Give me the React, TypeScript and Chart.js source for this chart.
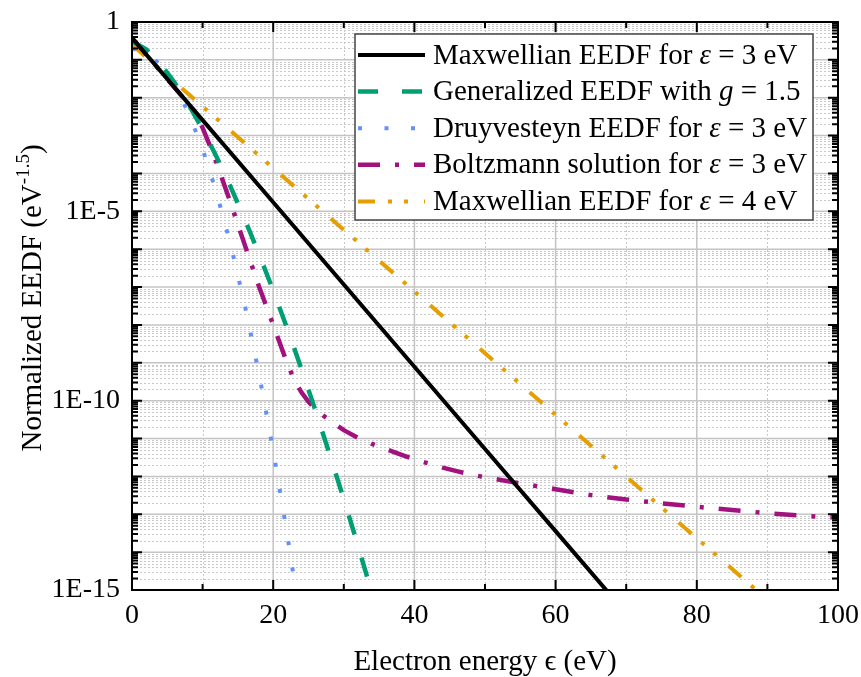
import React, { useEffect, useRef } from 'react';
import { Chart, registerables } from 'chart.js';
Chart.register(...registerables);

const FONT = "'Liberation Serif', 'Times New Roman', serif";

// ---- axis ticks ----
const xTickValues = [0, 20, 40, 60, 80, 100];
const xMinorValues = [10, 30, 50, 70, 90];
const yTickValues = [1e-15, 1e-10, 1e-5, 1];
const yTickLabels = ['1E-15', '1E-10', '1E-5', '1'];

// ---- series (energy in eV, EEDF in eV^-1.5) ----
const maxwell3E = [0, 10, 20, 30, 40, 50, 60, 70];
const maxwell3F = [3.8e-1, 2.56e-3, 1.73e-5, 1.17e-7, 7.87e-10, 5.31e-12, 3.58e-14, 2.42e-16];

const generalizedE = [0, 2, 4, 6, 8, 10, 12, 14, 16, 18, 20, 22, 24, 26, 28, 30, 32, 34];
const generalizedF = [3.1e-1, 1.9e-1, 8.0e-2, 2.56e-2, 6.7e-3, 1.46e-3, 2.7e-4, 4.3e-5, 6.0e-6, 7.4e-7, 8.1e-8, 7.9e-9, 6.9e-10, 5.4e-11, 3.8e-12, 2.5e-13, 1.5e-14, 8e-16];

const druyvesteynE = [0, 2, 4, 6, 8, 10, 12, 14, 16, 18, 20, 22, 24];
const druyvesteynF = [2.0e-1, 1.56e-1, 7.5e-2, 2.2e-2, 4.0e-3, 4.4e-4, 3.0e-5, 1.25e-6, 3.2e-8, 5.0e-10, 4.8e-12, 2.85e-14, 1.0e-16];

const boltzmannE = [0, 4, 8, 9, 10, 11, 12, 14, 16, 18, 20, 22, 23, 24, 25, 26, 27, 28, 30, 32, 34, 36, 38, 40, 42, 44, 46, 48, 50, 55, 60, 65, 70, 75, 80, 85, 90, 95, 100];
const boltzmannF = [3.8e-1, 5.1e-2, 6.9e-3, 4.0e-3, 1.6e-3, 5.6e-4, 1.86e-4, 1.6e-5, 1.26e-6, 1.02e-7, 1.0e-8, 9.5e-10, 3.5e-10, 1.66e-10, 9.3e-11, 6.0e-11, 4.2e-11, 3.0e-11, 1.66e-11, 1.05e-11, 7.2e-12, 5.2e-12, 3.8e-12, 2.8e-12, 2.2e-12, 1.7e-12, 1.38e-12, 1.12e-12, 9.5e-13, 6.5e-13, 4.6e-13, 3.2e-13, 2.45e-13, 1.95e-13, 1.58e-13, 1.29e-13, 1.07e-13, 9.1e-14, 8.1e-14];

const maxwell4E = [0, 10, 20, 30, 40, 50, 60, 70, 80, 90];
const maxwell4F = [2.5e-1, 5.9e-3, 1.39e-4, 3.26e-6, 7.66e-8, 1.8e-9, 4.23e-11, 9.9e-13, 2.33e-14, 5.5e-16];

// ---- legend text (plain / italic runs) ----
const legendRows: [string, boolean][][] = [
  [['Maxwellian EEDF for ', false], ['ε', true], [' = 3 eV', false]],
  [['Generalized EEDF with ', false], ['g', true], [' = 1.5', false]],
  [['Druyvesteyn EEDF for ', false], ['ε', true], [' = 3 eV', false]],
  [['Boltzmann solution for ', false], ['ε', true], [' = 3 eV', false]],
  [['Maxwellian EEDF for ', false], ['ε', true], [' = 4 eV', false]],
];
const xTitle = 'Electron energy ϵ (eV)';
const yTitleMain = 'Normalized EEDF (eV';
const yTitleSup = '-1.5';
const yTitleEnd = ')';

const seriesE = [maxwell3E, generalizedE, druyvesteynE, boltzmannE, maxwell4E];
const seriesF = [maxwell3F, generalizedF, druyvesteynF, boltzmannF, maxwell4F];
const seriesColors = ['#000000', '#009E73', '#648FFF', '#A2127E', '#E69F00'];
const seriesDash = [[], [20, 24], [4, 22.5], [22, 15, 4, 15], [17, 13, 4, 12, 4, 16]];
const seriesWidth = [4, 4.5, 4, 4.5, 4];

const overlay = {
  id: 'overlay',
  beforeDatasetsDraw(chart: any) {
    const { ctx, chartArea: a, scales } = chart;
    const x = scales.x, y = scales.y;
    ctx.save();
    // minor grid
    ctx.strokeStyle = '#c8c8c8';
    ctx.lineWidth = 1;
    ctx.setLineDash([2, 2]);
    for (let e = -15; e < 0; e++) {
      for (let m = 2; m <= 9; m++) {
        const py = Math.round(y.getPixelForValue(m * Math.pow(10, e))) + 0.5;
        ctx.beginPath(); ctx.moveTo(a.left, py); ctx.lineTo(a.right, py); ctx.stroke();
      }
    }
    for (const v of xMinorValues) {
      const px = Math.round(x.getPixelForValue(v)) + 0.5;
      ctx.beginPath(); ctx.moveTo(px, a.top); ctx.lineTo(px, a.bottom); ctx.stroke();
    }
    // major grid
    ctx.setLineDash([]);
    ctx.strokeStyle = '#c4c4c4';
    ctx.lineWidth = 1.5;
    for (let e = -15; e <= 0; e++) {
      const py = y.getPixelForValue(Math.pow(10, e));
      ctx.beginPath(); ctx.moveTo(a.left, py); ctx.lineTo(a.right, py); ctx.stroke();
    }
    for (const v of xTickValues) {
      const px = x.getPixelForValue(v);
      ctx.beginPath(); ctx.moveTo(px, a.top); ctx.lineTo(px, a.bottom); ctx.stroke();
    }
    ctx.restore();
  },
  afterDatasetsDraw(chart: any) {
    const { ctx, chartArea: a, scales } = chart;
    const x = scales.x, y = scales.y;
    ctx.save();
    ctx.setLineDash([]);
    ctx.strokeStyle = '#000';
    ctx.lineWidth = 2;
    // ticks (inward, all four sides)
    const majorLen = 10, minorLen = 6;
    for (let e = -15; e <= 0; e++) {
      for (let m = 1; m <= 9; m++) {
        if (e === 0 && m > 1) break;
        const py = y.getPixelForValue(m * Math.pow(10, e));
        const len = m === 1 ? majorLen : minorLen;
        ctx.beginPath();
        ctx.moveTo(a.left, py); ctx.lineTo(a.left + len, py);
        ctx.moveTo(a.right, py); ctx.lineTo(a.right - len, py);
        ctx.stroke();
      }
    }
    const xt = [...xTickValues.map(v => [v, majorLen]), ...xMinorValues.map(v => [v, minorLen])];
    for (const [v, len] of xt) {
      const px = x.getPixelForValue(v);
      ctx.beginPath();
      ctx.moveTo(px, a.bottom); ctx.lineTo(px, a.bottom - len);
      ctx.moveTo(px, a.top); ctx.lineTo(px, a.top + len);
      ctx.stroke();
    }
    // frame
    ctx.lineWidth = 2;
    ctx.strokeRect(a.left, a.top, a.right - a.left, a.bottom - a.top);

    // legend
    const lx0 = 355, ly0 = 34, lx1 = 813, ly1 = 220;
    ctx.fillStyle = '#ffffff';
    ctx.fillRect(lx0, ly0, lx1 - lx0, ly1 - ly0);
    ctx.strokeStyle = '#444';
    ctx.lineWidth = 1.5;
    ctx.strokeRect(lx0, ly0, lx1 - lx0, ly1 - ly0);
    const rowY0 = 55, rowStep = 36.6;
    legendRows.forEach((row, i) => {
      const cy = rowY0 + i * rowStep;
      ctx.save();
      ctx.strokeStyle = seriesColors[i];
      ctx.lineWidth = seriesWidth[i];
      ctx.setLineDash(seriesDash[i]);
      ctx.beginPath(); ctx.moveTo(358, cy); ctx.lineTo(425, cy); ctx.stroke();
      ctx.restore();
      let tx = 433;
      ctx.fillStyle = '#000';
      ctx.textBaseline = 'middle';
      ctx.textAlign = 'left';
      for (const [txt, it] of row) {
        ctx.font = `${it ? 'italic ' : ''}29px ${FONT}`;
        ctx.fillText(txt, tx, cy + 1);
        tx += ctx.measureText(txt).width;
      }
    });

    // x title
    ctx.fillStyle = '#000';
    ctx.font = `29px ${FONT}`;
    ctx.textAlign = 'center';
    ctx.textBaseline = 'alphabetic';
    ctx.fillText(xTitle, (a.left + a.right) / 2, 670);

    // y title (rotated, with superscript)
    ctx.save();
    ctx.translate(41, 298);
    ctx.rotate(-Math.PI / 2);
    ctx.textAlign = 'left';
    ctx.font = `29px ${FONT}`;
    const w1 = ctx.measureText(yTitleMain).width;
    const w3 = ctx.measureText(yTitleEnd).width;
    ctx.font = `19px ${FONT}`;
    const w2 = ctx.measureText(yTitleSup).width;
    const start = -(w1 + w2 + w3) / 2;
    ctx.font = `29px ${FONT}`;
    ctx.fillText(yTitleMain, start, 0);
    ctx.font = `19px ${FONT}`;
    ctx.fillText(yTitleSup, start + w1, -12);
    ctx.font = `29px ${FONT}`;
    ctx.fillText(yTitleEnd, start + w1 + w2, 0);
    ctx.restore();

    ctx.restore();
  },
};

export default function App() {
  const ref = useRef<HTMLCanvasElement>(null);
  useEffect(() => {
    document.body.style.margin = '0';
    document.body.style.overflow = 'hidden';
    const datasets = seriesE.map((es, i) => ({
      label: legendRows[i].map(r => r[0]).join(''),
      data: es.map((e, j) => ({ x: e, y: seriesF[i][j] })),
      borderColor: seriesColors[i],
      backgroundColor: seriesColors[i],
      borderWidth: seriesWidth[i],
      borderDash: seriesDash[i],
      pointRadius: 0,
      fill: false,
      tension: 0,
    }));
    const chart = new Chart(ref.current as HTMLCanvasElement, {
      type: 'line',
      data: { datasets },
      options: {
        animation: false,
        responsive: true,
        maintainAspectRatio: false,
        layout: { padding: { top: 22, right: 23, left: 0, bottom: 0 } },
        plugins: {
          legend: { display: false },
          tooltip: { enabled: false },
          title: { display: false },
        },
        scales: {
          x: {
            type: 'linear',
            min: 0,
            max: 100,
            grid: { display: false, drawTicks: false },
            border: { display: false },
            afterBuildTicks: (s: any) => { s.ticks = xTickValues.map(v => ({ value: v })); },
            afterFit: (s: any) => { s.height = 87; s.paddingRight = 23; s.paddingLeft = 0; },
            ticks: {
              font: { family: FONT, size: 28, lineHeight: 1 },
              color: '#000',
              padding: 12,
              maxRotation: 0,
              autoSkip: false,
            },
          },
          y: {
            type: 'logarithmic',
            min: 1e-15,
            max: 1,
            grid: { display: false, drawTicks: false },
            border: { display: false },
            afterBuildTicks: (s: any) => { s.ticks = yTickValues.map(v => ({ value: v })); },
            afterFit: (s: any) => { s.width = 132; s.paddingTop = 22; s.paddingBottom = 0; },
            ticks: {
              font: { family: FONT, size: 28, lineHeight: 1 },
              color: '#000',
              padding: 12,
              autoSkip: false,
              callback: (_v: any, i: number) => yTickLabels[i],
            },
          },
        },
      } as any,
      plugins: [overlay],
    });
    return () => chart.destroy();
  }, []);
  return (
    <div style={{ width: 861, height: 677, position: 'relative' }}>
      <canvas ref={ref} />
    </div>
  );
}
